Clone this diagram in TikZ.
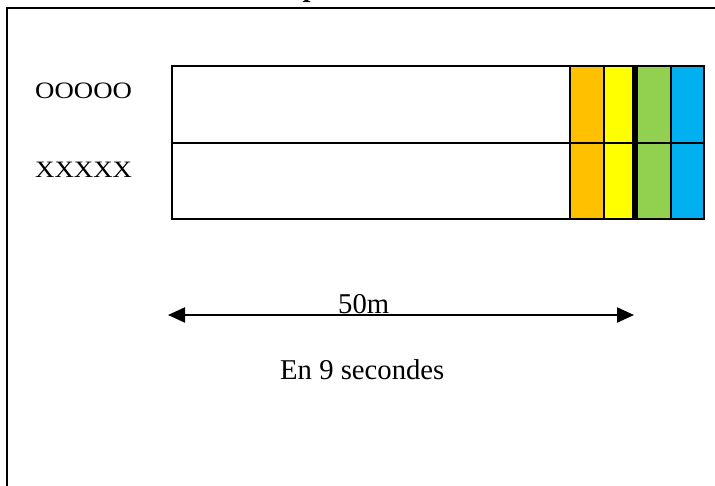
\documentclass[tikz,border=0pt]{standalone}
\usepackage{fontspec}
\setmainfont{Liberation Serif}
\usetikzlibrary{arrows.meta}
\definecolor{laneorange}{HTML}{FFC000}
\definecolor{laneyellow}{HTML}{FFFF00}
\definecolor{lanegreen}{HTML}{92D050}
\definecolor{laneblue}{HTML}{00B0F0}
\tikzset{
  frameline/.style={line width=2pt},
  trackline/.style={line width=2.2pt},
  bigtext/.style={font=\fontsize{28.7}{34}\selectfont, inner sep=0pt, anchor=base west},
  lanelabel/.style={font=\fontsize{23.5}{28}\selectfont, inner sep=0pt, anchor=base west, xscale=1.14},
  distarrow/.style={line width=2.2pt, {Triangle[length=17pt,width=15pt]}-{Triangle[length=17pt,width=15pt]}}
}
\begin{document}
\begin{tikzpicture}[x=1pt,y=-1pt]
\useasboundingbox (0,0) rectangle (715,485);
\clip (0,0) rectangle (715,485);

% outer frame (open to the right and bottom)
\draw[frameline] (6.7,495) -- (6.7,7.7) -- (725,7.7);

% heading, mostly above the page
\node[bigtext, font=\bfseries\fontsize{28.7}{34}\selectfont] (heading) at (302.5,-3.5) {p};

% coloured zones at the end of the lanes
\fill[laneorange] (570,66) rectangle (604,219.3);
\fill[laneyellow] (604,66) rectangle (634.5,219.3);
\fill[lanegreen] (634.5,66) rectangle (671,219.3);
\fill[laneblue] (671,66) rectangle (704,219.3);

% lanes
\draw[trackline] (172,66) rectangle (704,219.3);
\draw[trackline] (172,143) -- (704,143);
\foreach \xx in {570,604,671}
  \draw[trackline] (\xx,66) -- (\xx,219.3);
\draw[line width=6pt] (634.5,66) -- (634.5,219.3);

% runners
\node[lanelabel] (laneO) at (35,98) {OOOOO};
\node[lanelabel] (laneX) at (35,177.5) {XXXXX};

% distance
\coordinate (start) at (168,315);
\coordinate (finish) at (634,315);
\draw[distarrow] (start) -- (finish);
\node[bigtext] (dist) at (338,313.5) {50m};
\node[bigtext] (time) at (280,379) {En 9 secondes};
\end{tikzpicture}
\end{document}
